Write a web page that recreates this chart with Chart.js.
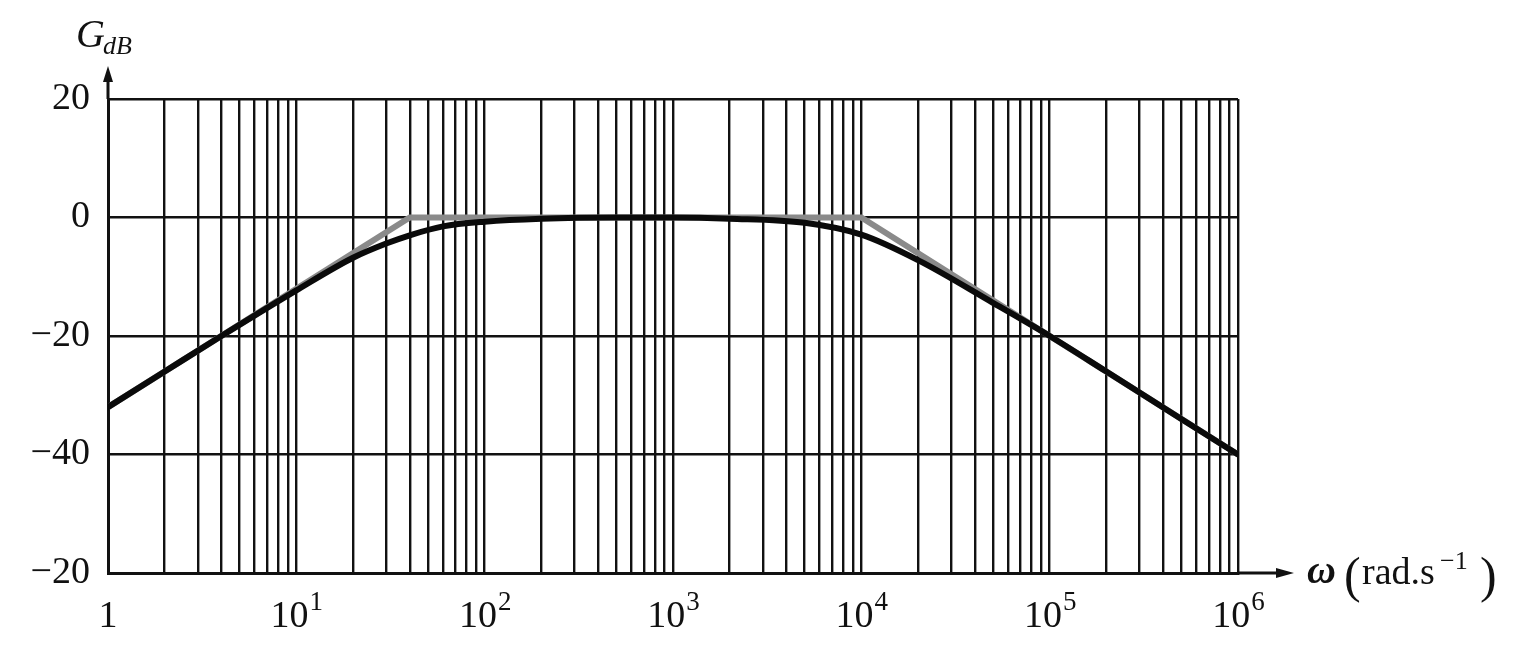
<!DOCTYPE html>
<html>
<head>
<meta charset="utf-8">
<script src="https://cdn.jsdelivr.net/npm/chart.js@4.4.0/dist/chart.umd.min.js"></script>
<style>
  html, body { margin: 0; padding: 0; background: #fff; }
</style>
</head>
<body>
<canvas id="bode" width="1530" height="666"></canvas>
<script>
// ---- data ----
// real gain curve
const omega = [1, 2, 4, 10, 20, 30, 40, 60, 100, 200, 500, 1000, 2000, 5000, 10000, 20000, 50000, 100000, 200000, 500000, 1000000];
const gainDb = [-32, -26, -20, -12.3, -6.8, -4.4, -3, -1.5, -0.7, -0.2, 0, 0, -0.2, -0.9, -2.9, -7.2, -14.4, -20, -26, -34, -40];
// asymptotic diagram (grey)
const asymOmega = [1, 40, 10000, 1000000];
const asymDb = [-32, 0, 0, -40];

// axes
const yTicks = [-60, -40, -20, 0, 20];
const yTickLabels = ["−20", "−40", "−20", "0", "20"];
const xDecades = [1, 10, 100, 1000, 10000, 100000, 1000000];
const xDecadeExp = ["", "1", "2", "3", "4", "5", "6"];

const SERIF = "'Liberation Serif', 'DejaVu Serif', serif";
const INK = "#111";

// grid at 1..9 of every decade
function decadeGrid() {
  const ticks = [];
  for (let d = 0; d < xDecades.length - 1; d++) {
    for (let m = 1; m < 10; m++) ticks.push({ value: xDecades[d] * m });
  }
  ticks.push({ value: xDecades[xDecades.length - 1] });
  return ticks;
}

// ------------------ EXTRA DRAWING ------------------ //
const bodeDecor = {
  id: "bodeDecor",
  afterDraw(chart) {
    const { ctx, chartArea: a, scales } = chart;
    const xs = scales.x;
    ctx.save();
    ctx.fillStyle = INK;
    ctx.strokeStyle = INK;

    // axis arrows
    ctx.lineWidth = 3;
    ctx.beginPath();
    ctx.moveTo(a.left, a.top);
    ctx.lineTo(a.left, 78);
    ctx.moveTo(a.right, a.bottom);
    ctx.lineTo(1282, a.bottom);
    ctx.stroke();
    ctx.beginPath();
    ctx.moveTo(a.left, 66);
    ctx.lineTo(a.left - 5, 82);
    ctx.lineTo(a.left + 5, 82);
    ctx.closePath();
    ctx.fill();
    ctx.beginPath();
    ctx.moveTo(1294, a.bottom);
    ctx.lineTo(1276, a.bottom - 5);
    ctx.lineTo(1276, a.bottom + 5);
    ctx.closePath();
    ctx.fill();

    // x labels: 1, 10^1 ... 10^6
    ctx.textBaseline = "alphabetic";
    ctx.textAlign = "left";
    xDecades.forEach((v, i) => {
      const px = xs.getPixelForValue(v);
      const base = i === 0 ? "1" : "10";
      ctx.font = "38px " + SERIF;
      const wb = ctx.measureText(base).width;
      ctx.font = "27px " + SERIF;
      const we = ctx.measureText(xDecadeExp[i]).width;
      const x0 = px - (wb + we) / 2;
      ctx.font = "38px " + SERIF;
      ctx.fillText(base, x0, 627);
      ctx.font = "27px " + SERIF;
      ctx.fillText(xDecadeExp[i], x0 + wb + 1, 610);
    });

    // y axis title G_dB
    ctx.font = "italic 40px " + SERIF;
    ctx.fillText("G", 76, 47);
    ctx.font = "italic 26px " + SERIF;
    ctx.fillText("dB", 103, 54);

    // x axis title ω (rad.s^-1)
    ctx.font = "bold italic 40px " + SERIF;
    ctx.fillText("ω", 1307, 583);
    ctx.font = "50px " + SERIF;
    ctx.fillText("(", 1344, 592);
    ctx.font = "38px " + SERIF;
    ctx.fillText("rad.s", 1362, 584);
    ctx.font = "26px " + SERIF;
    ctx.fillText("−1", 1440, 569);
    ctx.font = "50px " + SERIF;
    ctx.fillText(")", 1480, 592);
    ctx.restore();
  }
};

// ------------------ CHART ------------------ //
const ctx = document.getElementById("bode").getContext("2d");
new Chart(ctx, {
  type: "line",
  data: {
    datasets: [
      {
        label: "G_dB",
        data: omega.map((w, i) => ({ x: w, y: gainDb[i] })),
        borderColor: "#0a0a0a",
        borderWidth: 6,
        pointRadius: 0,
        cubicInterpolationMode: "monotone",
        borderCapStyle: "round",
        order: 0
      },
      {
        label: "asymptotes",
        data: asymOmega.map((w, i) => ({ x: w, y: asymDb[i] })),
        borderColor: "#8a8a8a",
        borderWidth: 6,
        pointRadius: 0,
        tension: 0,
        order: 1
      }
    ]
  },
  options: {
    responsive: false,
    animation: false,
    layout: { padding: { top: 99, right: 292, left: 0, bottom: 0 } },
    plugins: { legend: { display: false }, tooltip: { enabled: false } },
    scales: {
      x: {
        type: "logarithmic",
        min: 1,
        max: 1000000,
        afterBuildTicks: axis => { axis.ticks = decadeGrid(); },
        afterFit: axis => { axis.height = 93; },
        ticks: { display: false },
        grid: { color: INK, lineWidth: 2.4, drawTicks: false },
        border: { display: true, color: INK, width: 3 }
      },
      y: {
        min: -60,
        max: 20,
        afterBuildTicks: axis => { axis.ticks = yTicks.map(v => ({ value: v })); },
        afterFit: axis => { axis.width = 108; },
        ticks: {
          padding: 18,
          color: INK,
          font: { family: SERIF, size: 38 },
          callback: v => yTickLabels[yTicks.indexOf(v)]
        },
        grid: { color: INK, lineWidth: 2.4, drawTicks: false },
        border: { display: true, color: INK, width: 3 }
      }
    }
  },
  plugins: [bodeDecor]
});
</script>
</body>
</html>
